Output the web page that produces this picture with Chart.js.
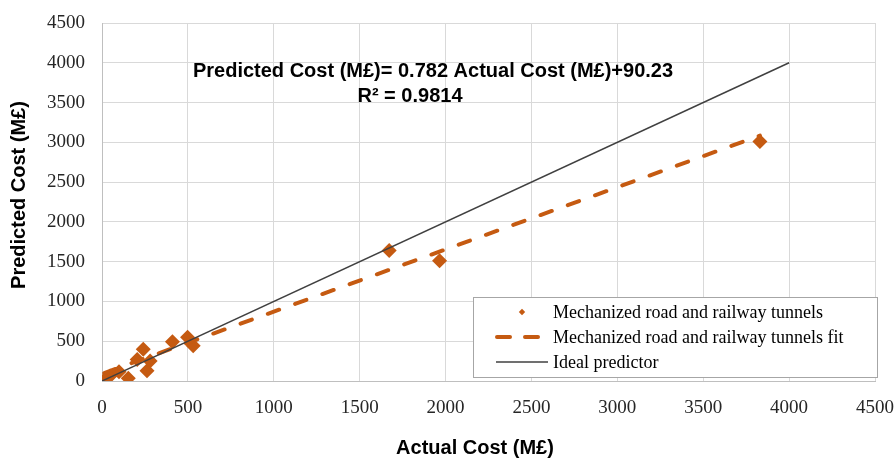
<!DOCTYPE html>
<html>
<head>
<meta charset="utf-8">
<script src="https://cdn.jsdelivr.net/npm/chart.js@4.4.1/dist/chart.umd.min.js"></script>
<style>
  html, body { margin: 0; padding: 0; background: #ffffff; }
  #wrap { width: 896px; height: 460px; }
</style>
</head>
<body>
<div id="wrap"><canvas id="c" width="896" height="460"></canvas></div>
<script>
// ---- data ----
const actualCost    = [13, 47, 99, 153, 205, 240, 262, 280, 410, 498, 531, 1672, 1965, 3830];
const predictedCost = [13, 63, 117, 34, 270, 400, 130, 250, 494, 549, 444, 1640, 1510, 3010];
const fitX   = [13, 3830];
const fitY   = [100, 3085];
const idealX = [0, 4000];
const idealY = [0, 4000];
const tickValues = [0, 500, 1000, 1500, 2000, 2500, 3000, 3500, 4000, 4500];
const seriesLabels = ['Mechanized road and railway tunnels', 'Mechanized road and railway tunnels fit', 'Ideal predictor'];
const equationText = 'Predicted Cost (M£)= 0.782 Actual Cost (M£)+90.23';
const r2Text = 'R² = 0.9814';
const xTitle = 'Actual Cost (M£)';
const yTitle = 'Predicted Cost (M£)';

const ORANGE = '#C55A11';
const DARK = '#404040';

const toPts = (xs, ys) => xs.map((x, i) => ({ x: x, y: ys[i] }));

const overlayPlugin = {
  id: 'overlay',
  afterDraw(chart) {
    const ctx = chart.ctx;
    const xs = chart.scales.x, ys = chart.scales.y;
    ctx.save();
    // regression equation text
    ctx.fillStyle = '#000000';
    ctx.font = 'bold 20px "Liberation Sans", Arial, sans-serif';
    ctx.textBaseline = 'alphabetic';
    ctx.textAlign = 'center';
    ctx.fillText(equationText, xs.getPixelForValue(1927), ys.getPixelForValue(3826));
    ctx.fillText(r2Text, xs.getPixelForValue(1793), ys.getPixelForValue(3512));

    // axis titles
    ctx.textBaseline = 'middle';
    ctx.fillText(xTitle, 475, 448);
    ctx.save();
    ctx.translate(19, 195);
    ctx.rotate(-Math.PI / 2);
    ctx.fillText(yTitle, 0, 0);
    ctx.restore();

    // legend box
    const lx = 473, ly = 297, lw = 404, lh = 80;
    ctx.fillStyle = '#ffffff';
    ctx.fillRect(lx, ly, lw, lh);
    ctx.strokeStyle = '#a6a6a6';
    ctx.lineWidth = 1;
    ctx.strokeRect(lx + 0.5, ly + 0.5, lw, lh);

    const rows = [ly + 15, ly + 40, ly + 65];
    // row 1: small diamond
    ctx.fillStyle = ORANGE;
    ctx.beginPath();
    const cx = 522, cy = rows[0], r = 3.2;
    ctx.moveTo(cx - r, cy); ctx.lineTo(cx, cy - r); ctx.lineTo(cx + r, cy); ctx.lineTo(cx, cy + r);
    ctx.closePath(); ctx.fill();
    // row 2: dashed
    ctx.strokeStyle = ORANGE;
    ctx.lineWidth = 4;
    ctx.lineCap = 'round';
    ctx.beginPath();
    ctx.moveTo(497, rows[1]); ctx.lineTo(510, rows[1]);
    ctx.moveTo(525, rows[1]); ctx.lineTo(538, rows[1]);
    ctx.stroke();
    // row 3: solid thin
    ctx.strokeStyle = DARK;
    ctx.lineWidth = 1.5;
    ctx.lineCap = 'butt';
    ctx.beginPath();
    ctx.moveTo(496, rows[2]); ctx.lineTo(548, rows[2]);
    ctx.stroke();

    ctx.fillStyle = '#000000';
    ctx.font = '18px "Liberation Serif", "Times New Roman", serif';
    ctx.textAlign = 'left';
    ctx.textBaseline = 'middle';
    seriesLabels.forEach((t, i) => ctx.fillText(t, 553, rows[i] + 1));
    ctx.restore();
  }
};

new Chart(document.getElementById('c'), {
  type: 'scatter',
  data: {
    datasets: [
      {
        label: seriesLabels[0],
        data: toPts(actualCost, predictedCost),
        pointStyle: 'rectRot',
        pointRadius: 7.5,
        pointHoverRadius: 7.5,
        backgroundColor: ORANGE,
        borderColor: ORANGE,
        borderWidth: 0,
        order: 3
      },
      {
        label: seriesLabels[1],
        type: 'line',
        data: toPts(fitX, fitY),
        borderColor: ORANGE,
        borderWidth: 4,
        borderDash: [12, 17],
        borderCapStyle: 'round',
        pointRadius: 0,
        fill: false,
        order: 2
      },
      {
        label: seriesLabels[2],
        type: 'line',
        data: toPts(idealX, idealY),
        borderColor: DARK,
        borderWidth: 1.5,
        pointRadius: 0,
        fill: false,
        order: 1
      }
    ]
  },
  options: {
    responsive: false,
    animation: false,
    layout: { padding: { top: 23, right: 21, left: 0, bottom: 0 } },
    plugins: { legend: { display: false }, tooltip: { enabled: false } },
    scales: {
      x: {
        type: 'linear',
        min: 0, max: 4500,
        afterBuildTicks: (s) => { s.ticks = tickValues.map(v => ({ value: v })); },
        afterFit: (s) => { s.height = 79; s.paddingRight = 0; s.paddingLeft = 0; },
        grid: { color: '#d9d9d9', lineWidth: 1, drawTicks: false },
        border: { color: '#bfbfbf', width: 1 },
        ticks: {
          padding: 16,
          color: '#262626',
          callback: (v) => String(v),
          font: { family: '"Liberation Serif", "Times New Roman", serif', size: 19 },
          maxRotation: 0
        },
        title: { display: false, text: xTitle }
      },
      y: {
        type: 'linear',
        min: 0, max: 4500,
        afterBuildTicks: (s) => { s.ticks = tickValues.map(v => ({ value: v })); },
        afterFit: (s) => { s.width = 102; s.paddingTop = 0; s.paddingBottom = 0; },
        grid: { color: '#d9d9d9', lineWidth: 1, drawTicks: false },
        border: { color: '#bfbfbf', width: 1 },
        ticks: {
          padding: 17,
          color: '#262626',
          callback: (v) => String(v),
          font: { family: '"Liberation Serif", "Times New Roman", serif', size: 19 }
        },
        title: { display: false, text: yTitle }
      }
    }
  },
  plugins: [overlayPlugin]
});
</script>
</body>
</html>
